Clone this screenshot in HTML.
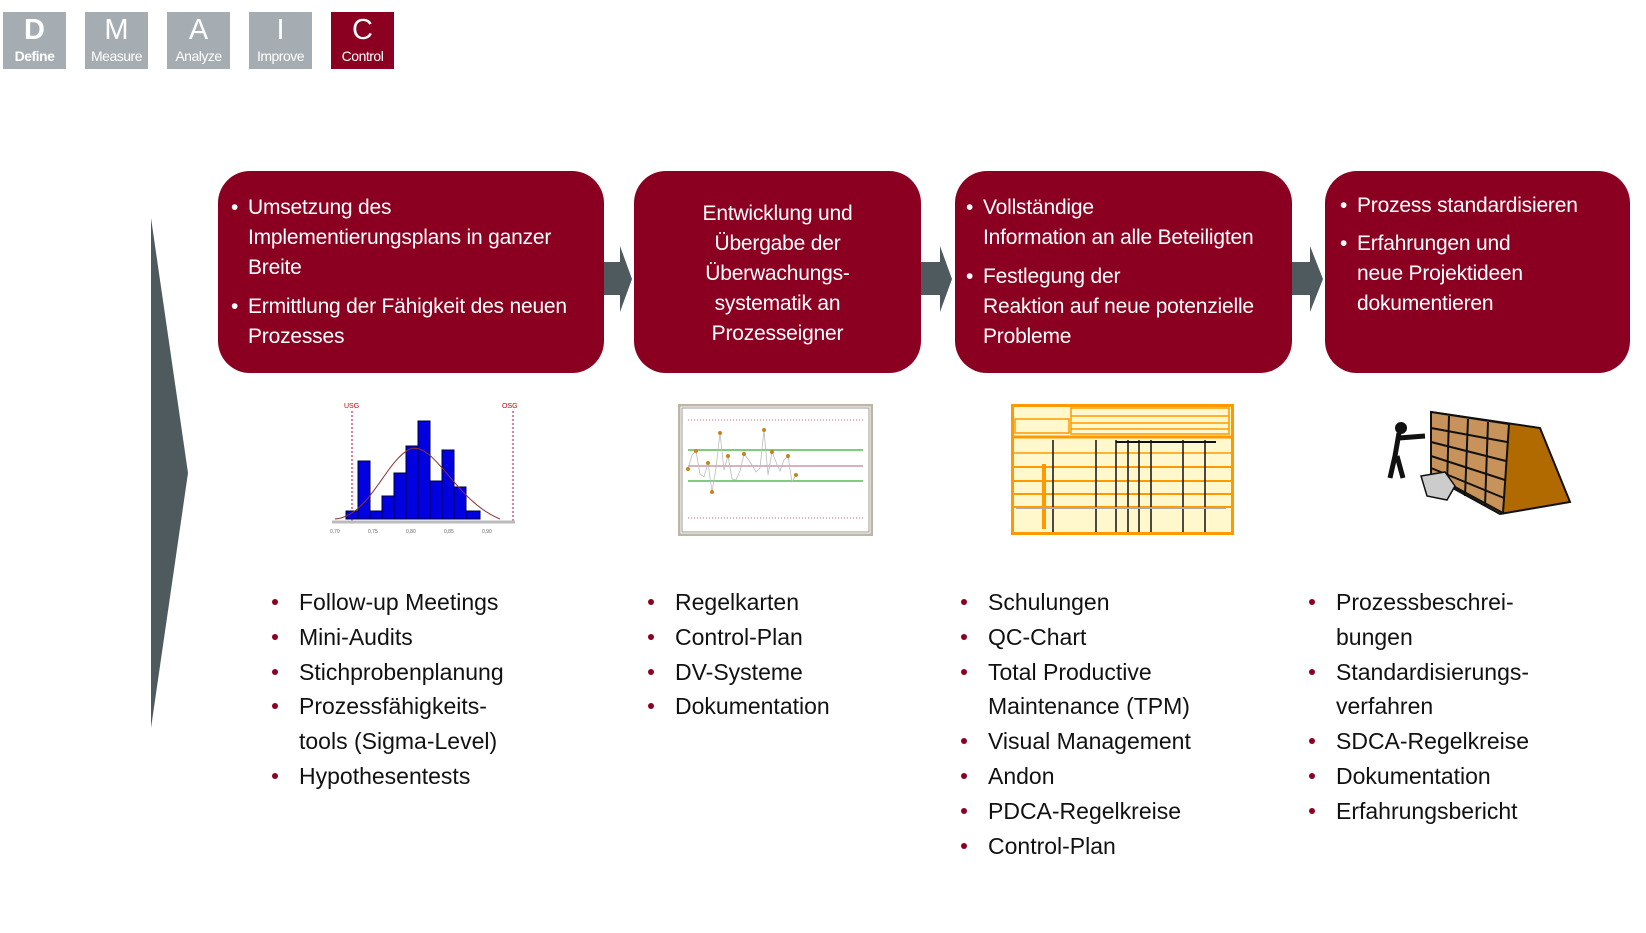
<!DOCTYPE html>
<html><head><meta charset="utf-8"><style>
body{margin:0;width:1646px;height:933px;background:#fff;position:relative;overflow:hidden;font-family:"Liberation Sans",sans-serif}
.t{position:absolute;top:12px;width:63px;height:57px;background:#a6adb2;color:#fff;text-align:center}
.t b{display:block;font-size:29px;font-weight:normal;line-height:34px;margin-top:1px}
.t i{display:block;font-style:normal;font-size:14px;line-height:18px;letter-spacing:-0.5px}
.box{position:absolute;top:171px;height:202px;background:#8b0020;border-radius:32px;color:#fff;font-size:21px;line-height:30px;letter-spacing:-0.2px}
.box div{position:absolute;white-space:nowrap}
.box .b{position:absolute;left:-17px;top:0}
ul{position:absolute;margin:0;padding:0;list-style:none;font-size:23px;line-height:34.8px;color:#111;white-space:nowrap}
ul li{position:relative;padding-left:27px}
ul li::before{content:"";position:absolute;left:0;top:14px;width:6px;height:6px;border-radius:50%;background:#8b0020}
</style></head><body>
<div class="t" style="left:3px"><b style="font-weight:bold">D</b><i style="font-weight:bold">Define</i></div>
<div class="t" style="left:85px"><b>M</b><i>Measure</i></div>
<div class="t" style="left:167px"><b>A</b><i>Analyze</i></div>
<div class="t" style="left:249px"><b>I</b><i>Improve</i></div>
<div class="t" style="left:331px;background:#8b0020"><b>C</b><i>Control</i></div>

<svg style="position:absolute;left:0;top:0" width="1646" height="933">
<polygon points="151,218 188,473 151,728" fill="#4f5a5f"/>
<polygon points="603,262 620,262 620,246 632,279 620,312 620,295 603,295" fill="#4f5a5f"/>
<polygon points="917,262 940,262 940,246 952,279 940,312 940,295 917,295" fill="#4f5a5f"/>
<polygon points="1289,262 1310,262 1310,246 1323,279 1310,312 1310,295 1289,295" fill="#4f5a5f"/>
</svg>

<div class="box" style="left:218px;width:386px">
<div style="left:30px;top:22px"><span class="b">•</span>Umsetzung des<br>Implementierungsplans in ganzer<br>Breite</div>
<div style="left:30px;top:121px"><span class="b">•</span>Ermittlung der Fähigkeit des neuen<br>Prozesses</div>
</div>
<div class="box" style="left:634px;width:287px;text-align:center">
<div style="left:0;width:287px;top:28px">Entwicklung und<br>Übergabe der<br>Überwachungs-<br>systematik an<br>Prozesseigner</div>
</div>
<div class="box" style="left:955px;width:337px">
<div style="left:28px;top:22px"><span class="b">•</span>Vollständige<br>Information an alle Beteiligten</div>
<div style="left:28px;top:91px"><span class="b">•</span>Festlegung der<br>Reaktion auf neue potenzielle<br>Probleme</div>
</div>
<div class="box" style="left:1325px;width:305px">
<div style="left:32px;top:20px"><span class="b">•</span>Prozess standardisieren</div>
<div style="left:32px;top:58px"><span class="b">•</span>Erfahrungen und<br>neue Projektideen<br>dokumentieren</div>
</div>

<svg style="position:absolute;left:330px;top:401px" width="192" height="137" viewBox="0 0 192 137">
<text x="14" y="7" font-size="7" fill="#c00" font-family="Liberation Sans">USG</text>
<text x="172" y="7" font-size="7" fill="#c00" font-family="Liberation Sans">OSG</text>
<line x1="22" y1="10" x2="22" y2="120" stroke="#c03" stroke-dasharray="2,2"/>
<line x1="183" y1="10" x2="183" y2="120" stroke="#c03" stroke-dasharray="2,2"/>
<g fill="#0000e0" stroke="#003">
<rect x="16" y="110" width="12" height="8"/><rect x="28" y="60" width="12" height="58"/><rect x="40" y="110" width="12" height="8"/>
<rect x="52" y="95" width="12" height="23"/><rect x="64" y="72" width="12" height="46"/><rect x="76" y="45" width="12" height="73"/>
<rect x="88" y="20" width="12" height="98"/><rect x="100" y="80" width="12" height="38"/><rect x="112" y="49" width="12" height="69"/>
<rect x="124" y="86" width="12" height="32"/><rect x="136" y="110" width="14" height="8"/></g>
<path d="M5,118 C40,115 55,60 80,48 C105,40 125,100 170,118" fill="none" stroke="#833" stroke-width="1"/>
<line x1="2" y1="121" x2="185" y2="121" stroke="#bbb" stroke-width="3"/>
<g font-size="5" fill="#666" font-family="Liberation Sans"><text x="0" y="132">0,70</text><text x="38" y="132">0,75</text><text x="76" y="132">0,80</text><text x="114" y="132">0,85</text><text x="152" y="132">0,90</text></g>
</svg>

<svg style="position:absolute;left:678px;top:404px" width="195" height="132" viewBox="0 0 195 132">
<rect x="1" y="1" width="193" height="130" fill="#fff" stroke="#bdb5a5" stroke-width="3"/>
<rect x="4" y="4" width="187" height="124" fill="none" stroke="#999"/>
<line x1="10" y1="16" x2="185" y2="16" stroke="#c66" stroke-dasharray="1,2"/>
<line x1="10" y1="114" x2="185" y2="114" stroke="#c66" stroke-dasharray="1,2"/>
<line x1="10" y1="46" x2="185" y2="46" stroke="#5b5" stroke-width="1.5"/>
<line x1="10" y1="62" x2="185" y2="62" stroke="#c9a" stroke-width="1.5"/>
<line x1="10" y1="77" x2="185" y2="77" stroke="#5b5" stroke-width="1.5"/>
<polyline points="10,65 14,51 18,47 22,70 26,73 30,59 34,88 38,64 42,29 46,66 50,52 54,75 58,76 62,67 66,50 70,55 74,61 78,68 82,64 86,26 90,71 94,48 98,58 102,67 106,56 110,52 114,78 118,71" fill="none" stroke="#bbb" stroke-width="0.8"/>
<g fill="#c8841a"><circle cx="10" cy="65" r="2"/><circle cx="18" cy="47" r="2"/><circle cx="30" cy="59" r="2"/><circle cx="34" cy="88" r="2"/><circle cx="42" cy="29" r="2"/><circle cx="50" cy="52" r="2"/><circle cx="66" cy="50" r="2"/><circle cx="86" cy="26" r="2"/><circle cx="94" cy="48" r="2"/><circle cx="110" cy="52" r="2"/><circle cx="118" cy="71" r="2"/></g>
</svg>

<svg style="position:absolute;left:1011px;top:404px" width="223" height="131" viewBox="0 0 223 131">
<rect x="1.5" y="1.5" width="220" height="128" fill="#fff8cc" stroke="#f90" stroke-width="3"/>
<g stroke="#f90" stroke-width="1.5" fill="none">
<rect x="60" y="4" width="158" height="26"/><line x1="60" y1="12" x2="218" y2="12"/><line x1="60" y1="19" x2="218" y2="19"/><line x1="60" y1="25" x2="218" y2="25"/>
<rect x="4" y="15" width="54" height="14"/>
<line x1="3" y1="33" x2="220" y2="33" stroke-width="3"/>
<line x1="3" y1="49" x2="220" y2="49"/><line x1="3" y1="63" x2="220" y2="63" stroke-width="2"/><line x1="3" y1="77" x2="220" y2="77" stroke-width="2"/>
<line x1="3" y1="90" x2="220" y2="90" stroke-width="2"/><line x1="3" y1="103" x2="220" y2="103" stroke-width="2"/>
<line x1="33" y1="60" x2="33" y2="125" stroke-width="4"/>
</g>
<g stroke="#111" stroke-width="1.5"><line x1="42" y1="36" x2="42" y2="128"/><line x1="85" y1="36" x2="85" y2="128"/><line x1="105" y1="36" x2="105" y2="128"/><line x1="117" y1="36" x2="117" y2="128"/><line x1="128" y1="36" x2="128" y2="128"/><line x1="140" y1="36" x2="140" y2="128"/><line x1="172" y1="36" x2="172" y2="128"/><line x1="194" y1="36" x2="194" y2="128"/><line x1="105" y1="38" x2="205" y2="38" stroke-width="2"/></g>
<line x1="5" y1="104" x2="215" y2="104" stroke="#aaa" stroke-width="2"/>
</svg>

<svg style="position:absolute;left:1385px;top:406px" width="190" height="116" viewBox="0 0 190 116">
<polygon points="46,6 155,22 185,96 115,108 46,70" fill="#b06a00" stroke="#111" stroke-width="2"/>
<polygon points="46,6 124,18 118,107 46,68" fill="#c8935a" stroke="#111" stroke-width="2"/>
<g stroke="#111" stroke-width="2"><line x1="64" y1="10" x2="62" y2="80"/><line x1="83" y1="13" x2="80" y2="90"/><line x1="103" y1="16" x2="100" y2="100"/>
<line x1="46" y1="22" x2="122" y2="36"/><line x1="46" y1="36" x2="121" y2="55"/><line x1="46" y1="50" x2="120" y2="74"/><line x1="46" y1="62" x2="119" y2="92"/></g>
<circle cx="16" cy="22" r="6" fill="#111"/>
<path d="M14,27 L10,50 L5,72 M12,50 L18,72 M14,32 L40,30" stroke="#111" stroke-width="5" fill="none"/>
<polygon points="36,70 60,66 70,80 62,94 42,90" fill="#ccc" stroke="#111" stroke-width="1.5"/>
</svg>

<ul style="left:272px;top:585px"><li>Follow-up Meetings</li><li>Mini-Audits</li><li>Stichprobenplanung</li><li>Prozessfähigkeits-<br>tools (Sigma-Level)</li><li>Hypothesentests</li></ul>
<ul style="left:648px;top:585px"><li>Regelkarten</li><li>Control-Plan</li><li>DV-Systeme</li><li>Dokumentation</li></ul>
<ul style="left:961px;top:585px"><li>Schulungen</li><li>QC-Chart</li><li>Total Productive<br>Maintenance (TPM)</li><li>Visual Management</li><li>Andon</li><li>PDCA-Regelkreise</li><li>Control-Plan</li></ul>
<ul style="left:1309px;top:585px"><li>Prozessbeschrei-<br>bungen</li><li>Standardisierungs-<br>verfahren</li><li>SDCA-Regelkreise</li><li>Dokumentation</li><li>Erfahrungsbericht</li></ul>
</body></html>
